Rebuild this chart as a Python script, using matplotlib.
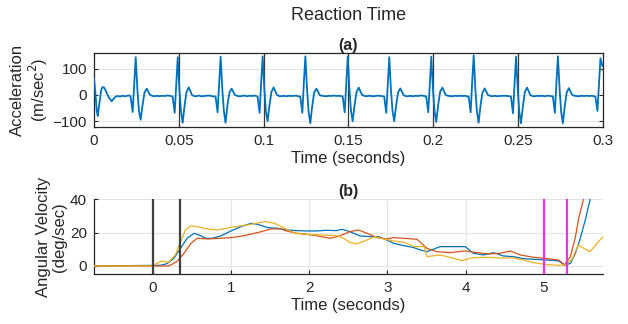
import numpy as np
import matplotlib
matplotlib.use("Agg")
import matplotlib.pyplot as plt

plt.rcParams['font.family'] = ['Liberation Sans', 'DejaVu Sans']

# ---- (a) acceleration trace ----
# samples before the first beat (ms, m/s^2)
lead_ms = [0.0, 0.8, 1.6, 2.2, 3.2, 4.2, 5.0, 6.0, 7.0, 8.0, 9.0, 10.4,
           11.5, 12.8, 14.0, 15.4, 16.8, 18.2, 19.6, 21.0]
lead_val = [62, 10, -60, -80, -30, 18, 30, 28, 15, 0, -12, -24,
            -15, -6, -4, -6, -3, -5, -3, -2]

# beat peak times (ms) and the samples around each beat (offsets in ms)
beat_peak_ms = [24.6, 49.4, 74.7, 99.5, 124.7, 149.7, 174.2, 199.0,
                224.0, 249.0, 273.7, 298.8]
beat_offset_ms = [-3.0, -1.8, -0.9, 0.0, 1.0, 1.9, 2.9, 4.0, 5.2, 6.5,
                  7.5, 8.4, 9.6, 11.0, 12.4, 13.9, 15.4, 16.9, 18.4, 20.0, 21.4]
beat_val = [
    [-6, -65, 40, 144, 20, -60, -94, -40, 10, 24, 12, 1, -3, -5, -3, -5, -3, -4, -2, -3, -5],
    [-7, -68, 42, 144, 18, -62, -106, -42, 12, 29, 14, 0, -4, -5, -2, -5, -4, -3, -2, -4, -6],
    [-5, -66, 44, 146, 20, -60, -106, -40, 10, 24, 12, 0, -3, -5, -4, -2, -5, -3, -4, -2, -5],
    [-6, -68, 45, 147, 22, -62, -100, -40, 12, 29, 13, 1, -4, -5, -3, -5, -3, -4, -3, -3, -6],
    [-6, -68, 46, 147, 20, -64, -108, -44, 10, 24, 12, 0, -3, -4, -5, -3, -4, -2, -4, -3, -5],
    [-5, -66, 44, 146, 20, -60, -100, -40, 12, 28, 13, 1, -3, -5, -3, -4, -5, -3, -3, -4, -6],
    [-6, -68, 42, 144, 18, -60, -100, -42, 10, 25, 12, 0, -4, -5, -3, -5, -3, -4, -2, -3, -5],
    [-5, -66, 44, 146, 20, -62, -103, -40, 12, 28, 14, 1, -3, -4, -5, -3, -4, -3, -4, -3, -6],
    [-6, -66, 48, 151, 22, -62, -106, -42, 10, 25, 12, 0, -3, -5, -3, -5, -4, -3, -3, -4, -5],
    [-6, -70, 44, 146, 20, -64, -108, -44, 12, 28, 13, 0, -4, -5, -3, -4, -3, -5, -3, -3, -6],
    [-5, -68, 46, 147, 20, -64, -108, -44, 10, 26, 12, 1, -3, -4, -5, -3, -4, -3, -4, -3, -5],
    [-6, -61, 40, 140, 110],
]

# ---- (b) angular velocity, three trials ----
t_blue = [-0.75, 0.1, 0.185, 0.27, 0.356, 0.44, 0.53, 0.59, 0.68, 0.76, 0.87, 1.0,
          1.13, 1.26, 1.34, 1.47, 1.6, 1.71, 1.84, 1.97, 2.09, 2.22, 2.35, 2.42,
          2.52, 2.65, 2.78, 2.89, 2.99, 3.08, 3.21, 3.34, 3.42, 3.505, 3.675,
          3.85, 3.995, 4.1, 4.23, 4.36, 4.48, 4.61, 4.74, 4.87, 5.04, 5.19, 5.27,
          5.34, 5.4, 5.46, 5.53, 5.59, 5.65]
v_blue = [0, 0.4, 1.4, 4.6, 10.6, 16.6, 19.6, 18.6, 16.6, 16.6, 18, 21,
          23.6, 25.6, 25, 23, 22.6, 21.6, 21.2, 21, 21, 21.4, 21.2, 22,
          20.6, 18, 17.6, 17.6, 15.6, 13.6, 12.2, 11, 9.6, 8.6, 11.6,
          11.6, 11.6, 7.6, 6.6, 8, 6, 5.6, 4.4, 4, 3.6, 3, 0.4,
          1.6, 7.2, 15.6, 27.6, 39.6, 50]
t_orange = [-0.75, 0.2, 0.23, 0.31, 0.4, 0.49, 0.57, 0.7, 0.87, 1.04, 1.21, 1.39,
            1.51, 1.64, 1.71, 1.84, 1.97, 2.09, 2.27, 2.39, 2.52, 2.63, 2.74,
            2.87, 2.99, 3.08, 3.21, 3.38, 3.505, 3.63, 3.8, 3.995, 4.14, 4.31,
            4.44, 4.57, 4.7, 4.87, 5.04, 5.19, 5.26, 5.34, 5.4, 5.45, 5.51, 5.56]
v_orange = [0, 0, 0.6, 2.6, 7.6, 13.6, 16.6, 16.2, 16.6, 17.2, 18.6, 20.6,
            22.2, 22.2, 21, 19.6, 19, 18.2, 16.6, 18, 20.6, 21.6, 19.6,
            17, 16.2, 17, 16.6, 16, 10.6, 8.6, 8, 9, 8, 7.2,
            7.6, 9, 6.6, 5.2, 4.4, 3.6, 0.6, 5.6, 16.6, 29.6, 40.6, 50]
t_yellow = [-0.75, 0.0, 0.013, 0.12, 0.2, 0.29, 0.356, 0.42, 0.49, 0.57, 0.7, 0.83,
            1.0, 1.21, 1.43, 1.56, 1.69, 1.77, 1.84, 1.97, 2.14, 2.35, 2.44,
            2.52, 2.61, 2.74, 2.84, 2.95, 3.08, 3.21, 3.34, 3.47, 3.505, 3.675,
            3.85, 3.95, 4.1, 4.27, 4.44, 4.61, 4.74, 4.87, 5.04, 5.19, 5.27,
            5.36, 5.44, 5.51, 5.59, 5.68, 5.75]
v_yellow = [0, 0, 0.6, 3, 2.2, 6.6, 14.6, 21.6, 24, 23.6, 22.2, 21.6,
            23.2, 24.6, 26.6, 25.6, 22.6, 20.6, 19.6, 19, 18.6, 18.2, 16.6,
            14.2, 13.2, 15.6, 17.6, 16.2, 15, 14.2, 11.6, 11.6, 5.6, 6.6,
            4.6, 3.2, 5, 5.2, 4.8, 4.8, 3.6, 2, 0.8, 0.4, 0.6,
            4, 12.6, 10.6, 8.6, 13.6, 17.2]

start_marks = [0.0, 0.35]
stop_marks = [5.0, 5.3]

# assemble the acceleration trace
acc_t, acc_v = list(np.array(lead_ms) / 1000), list(lead_val)
for peak, vals in zip(beat_peak_ms, beat_val):
    for off, v in zip(beat_offset_ms, vals):
        acc_t.append((peak + off) / 1000)
        acc_v.append(v)
acc_t[-1] = 0.3

C_BLUE, C_ORANGE, C_YELLOW = '#0072BD', '#D95319', '#EDB120'
AX_COL = '#262626'
GRID_COL = '#e3e3e3'

fig = plt.figure(figsize=(6.28, 3.24), dpi=100)
fig.text(0.555, 0.953, 'Reaction Time', ha='center', va='center',
         fontsize=13, color=AX_COL)

# --- top axes (a) ---
ax1 = fig.add_axes([0.1497, 0.608, 0.8097, 0.2293])
for x in np.arange(0.05, 0.3, 0.05):
    ax1.axvline(x, color='#3a3a3a', lw=0.9, zorder=1)
ax1.plot(acc_t, acc_v, color=C_BLUE, lw=1.3, zorder=3)
ax1.set_xlim(0, 0.3)
ax1.set_ylim(-122, 161)
ax1.set_xticks([0, 0.05, 0.1, 0.15, 0.2, 0.25, 0.3])
ax1.set_xticklabels(['0', '0.05', '0.1', '0.15', '0.2', '0.25', '0.3'])
ax1.set_yticks([-100, 0, 100])
ax1.grid(axis='y', color=GRID_COL, lw=0.8)
ax1.set_axisbelow(True)
ax1.tick_params(direction='in', top=True, right=True, length=3,
                labelsize=11, colors=AX_COL, pad=5)
for s in ax1.spines.values():
    s.set_color(AX_COL)
    s.set_linewidth(0.9)
ax1.set_title('(a)', fontsize=11.5, fontweight='bold', color=AX_COL, pad=2)
ax1.set_xlabel('Time (seconds)', fontsize=12, color=AX_COL, labelpad=2)
ax1.set_ylabel('Acceleration\n(m/sec$^2$)', fontsize=12, color=AX_COL,
               labelpad=2, linespacing=1.1)

# --- bottom axes (b) ---
ax2 = fig.add_axes([0.1497, 0.1534, 0.8097, 0.2315])
ax2.plot(t_blue, v_blue, color=C_BLUE, lw=0.9, zorder=3)
ax2.plot(t_orange, v_orange, color=C_ORANGE, lw=0.9, zorder=3)
ax2.plot(t_yellow, v_yellow, color=C_YELLOW, lw=0.9, zorder=3)
for x in start_marks:
    ax2.axvline(x, color='#404040', lw=1.6, zorder=4)
for x in stop_marks:
    ax2.axvline(x, color='#f030f0', lw=1.6, zorder=4)
ax2.set_xlim(-0.75, 5.75)
ax2.set_ylim(-5, 40)
ax2.set_xticks([0, 1, 2, 3, 4, 5])
ax2.set_yticks([0, 20, 40])
ax2.grid(color=GRID_COL, lw=0.8)
ax2.set_axisbelow(True)
ax2.spines['top'].set_visible(False)
ax2.spines['right'].set_visible(False)
for s in ['left', 'bottom']:
    ax2.spines[s].set_color(AX_COL)
    ax2.spines[s].set_linewidth(0.9)
ax2.tick_params(direction='in', length=3, labelsize=11, colors=AX_COL, pad=5)
ax2.set_title('(b)', fontsize=11.5, fontweight='bold', color=AX_COL, pad=2)
ax2.set_xlabel('Time (seconds)', fontsize=12, color=AX_COL, labelpad=2)
ax2.set_ylabel('Angular Velocity\n(deg/sec)', fontsize=12, color=AX_COL,
               labelpad=2, linespacing=1.1)

fig.savefig('out.png', dpi=100)
